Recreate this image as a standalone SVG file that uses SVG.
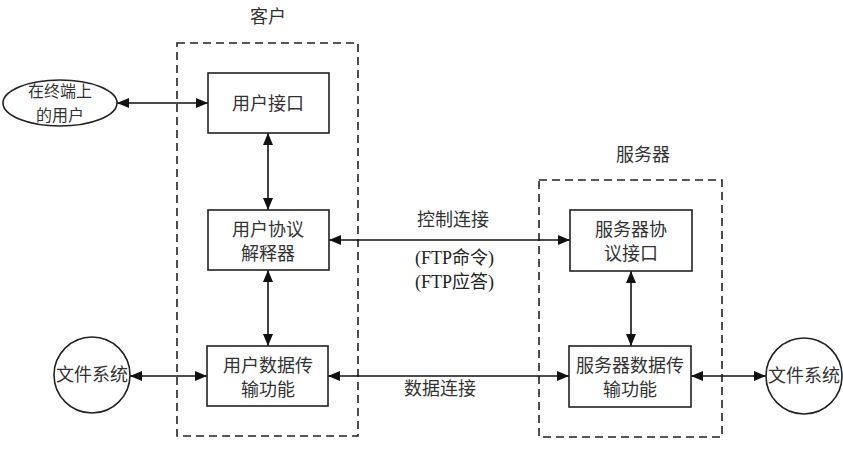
<svg xmlns="http://www.w3.org/2000/svg" width="843" height="453" viewBox="0 0 843 453">
<defs>
<marker id="ah" viewBox="0 0 12 10" refX="12" refY="5" markerWidth="12" markerHeight="10" markerUnits="userSpaceOnUse" orient="auto-start-reverse">
<path d="M0,0 L12,5 L0,10 Z" fill="#111"/>
</marker>
<style>
.box{fill:#fff;stroke:#222;stroke-width:1.6}
.dash{fill:none;stroke:#222;stroke-width:1.6;stroke-dasharray:8 5}
.t{font-family:"Noto Sans CJK SC","Noto Sans",sans-serif;font-size:18px;fill:#333;text-anchor:middle}
.s{font-size:16px}
.f{font-family:"Liberation Serif","Noto Sans CJK SC",serif;font-size:18px;fill:#222}
.c{fill:none;stroke:#111;stroke-width:1.6;marker-start:url(#ah);marker-end:url(#ah)}
</style>
</defs>
<rect width="843" height="453" fill="#fff"/>
<g id="client">
<rect class="dash" x="177" y="43" width="181" height="393"/>
<text class="t" x="268" y="23">客户</text>
</g>
<g id="server">
<rect class="dash" x="539" y="180" width="183" height="257"/>
<text class="t" x="643" y="161">服务器</text>
</g>
<g id="connectors">
<path class="c" d="M117,103 H208"/>
<path class="c" d="M268,133 V210"/>
<path class="c" d="M268,270 V346"/>
<path class="c" d="M329,240 H570"/>
<path class="c" d="M328,376 H569"/>
<path class="c" d="M631,271 V346"/>
<path class="c" d="M130,376 H207"/>
<path class="c" d="M691,376 H766"/>
<text class="t" x="453" y="226">控制连接</text>
<text class="f" x="415" y="264">(FTP<tspan font-family="Noto Sans CJK SC, sans-serif">命令</tspan>)</text>
<text class="f" x="415" y="288">(FTP<tspan font-family="Noto Sans CJK SC, sans-serif">应答</tspan>)</text>
<text class="t" x="440" y="395">数据连接</text>
</g>
<g id="user">
<ellipse class="box" cx="60" cy="103" rx="57" ry="23"/>
<text class="t s" x="60" y="97">在终端上</text>
<text class="t s" x="60" y="121">的用户</text>
</g>
<g id="ui">
<rect class="box" x="208" y="73" width="121" height="60"/>
<text class="t" x="268" y="110">用户接口</text>
</g>
<g id="upi">
<rect class="box" x="208" y="210" width="121" height="60"/>
<text class="t" x="268" y="236">用户协议</text>
<text class="t" x="268" y="260">解释器</text>
</g>
<g id="udt">
<rect class="box" x="207" y="346" width="121" height="60"/>
<text class="t" x="268" y="372">用户数据传</text>
<text class="t" x="268" y="396">输功能</text>
</g>
<g id="fs-left">
<circle class="box" cx="92" cy="375" r="38"/>
<text class="t" x="92" y="381">文件系统</text>
</g>
<g id="spi">
<rect class="box" x="570" y="210" width="122" height="61"/>
<text class="t" x="631" y="236">服务器协</text>
<text class="t" x="631" y="260">议接口</text>
</g>
<g id="sdt">
<rect class="box" x="569" y="346" width="122" height="61"/>
<text class="t" x="630" y="372">服务器数据传</text>
<text class="t" x="630" y="396">输功能</text>
</g>
<g id="fs-right">
<circle class="box" cx="804" cy="376" r="38"/>
<text class="t" x="804" y="382">文件系统</text>
</g>
</svg>
